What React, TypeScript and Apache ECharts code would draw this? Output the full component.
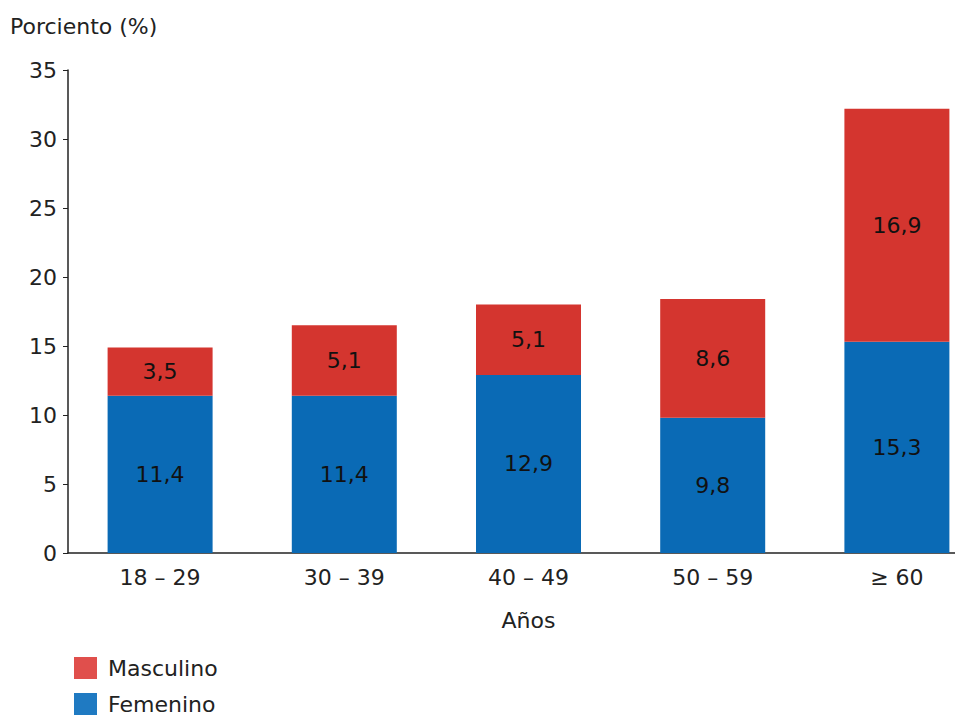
import React, { useEffect, useRef } from "react";
import * as echarts from "echarts";

const categories = ["18 – 29", "30 – 39", "40 – 49", "50 – 59", "≥ 60"];
const femenino = [11.4, 11.4, 12.9, 9.8, 15.3];
const masculino = [3.5, 5.1, 5.1, 8.6, 16.9];
const yTicks = { min: 0, max: 35, interval: 5 };

const FONT = "DejaVu Sans";
const TXT = "#222";
const fmt = (v: number) => v.toFixed(1).replace(".", ",");

export default function App() {
  const ref = useRef<HTMLDivElement>(null);
  useEffect(() => {
    if (!ref.current) return;
    const chart = echarts.init(ref.current, null, { renderer: "svg" });
    chart.setOption({
      animation: false,
      textStyle: { fontFamily: FONT },
      grid: { left: 68, top: 70, bottom: 164, right: 0, containLabel: false },
      graphic: [
        {
          type: "text",
          left: 10,
          top: 15,
          style: { text: "Porciento (%)", fontFamily: FONT, fontSize: 22, fill: TXT },
        },
      ],
      legend: {
        orient: "vertical",
        left: 74,
        top: 657,
        height: 100,
        padding: 0,
        icon: "rect",
        itemWidth: 23,
        itemHeight: 22,
        itemGap: 14,
        textStyle: { fontFamily: FONT, fontSize: 22, color: TXT, padding: [0, 0, 0, 6] },
        data: [
          { name: "Masculino", itemStyle: { color: "#e04f4c" } },
          { name: "Femenino", itemStyle: { color: "#1f7ac2" } },
        ],
      },
      xAxis: {
        type: "category",
        data: categories,
        name: "Años",
        nameLocation: "middle",
        nameGap: 56,
        nameTextStyle: { fontFamily: FONT, fontSize: 22, color: TXT },
        axisLine: { lineStyle: { color: TXT, width: 1.5 } },
        axisTick: { show: false },
        axisLabel: { fontFamily: FONT, fontSize: 22, color: TXT, margin: 13 },
      },
      yAxis: {
        type: "value",
        min: yTicks.min,
        max: yTicks.max,
        interval: yTicks.interval,
        splitLine: { show: false },
        axisLine: { show: true, lineStyle: { color: TXT, width: 1.5 } },
        axisTick: { show: true, length: 5, lineStyle: { color: TXT } },
        axisLabel: { fontFamily: FONT, fontSize: 22, color: TXT, margin: 11 },
      },
      series: [
        {
          name: "Femenino",
          type: "bar",
          stack: "total",
          barWidth: 105,
          data: femenino,
          itemStyle: { color: "#0a6ab5" },
          label: {
            show: true,
            position: "inside",
            formatter: (p: any) => fmt(p.value),
            fontFamily: FONT,
            fontSize: 22,
            color: "#111",
          },
        },
        {
          name: "Masculino",
          type: "bar",
          stack: "total",
          barWidth: 105,
          data: masculino,
          itemStyle: { color: "#d4352f" },
          label: {
            show: true,
            position: "inside",
            formatter: (p: any) => fmt(p.value),
            fontFamily: FONT,
            fontSize: 22,
            color: "#111",
          },
        },
      ],
    });
    return () => chart.dispose();
  }, []);
  return (
    <div
      style={{
        position: "fixed",
        left: 0,
        top: 0,
        width: 955,
        height: 717,
        overflow: "hidden",
        background: "#fff",
      }}
    >
      <div ref={ref} style={{ width: 989, height: 717 }} />
    </div>
  );
}
